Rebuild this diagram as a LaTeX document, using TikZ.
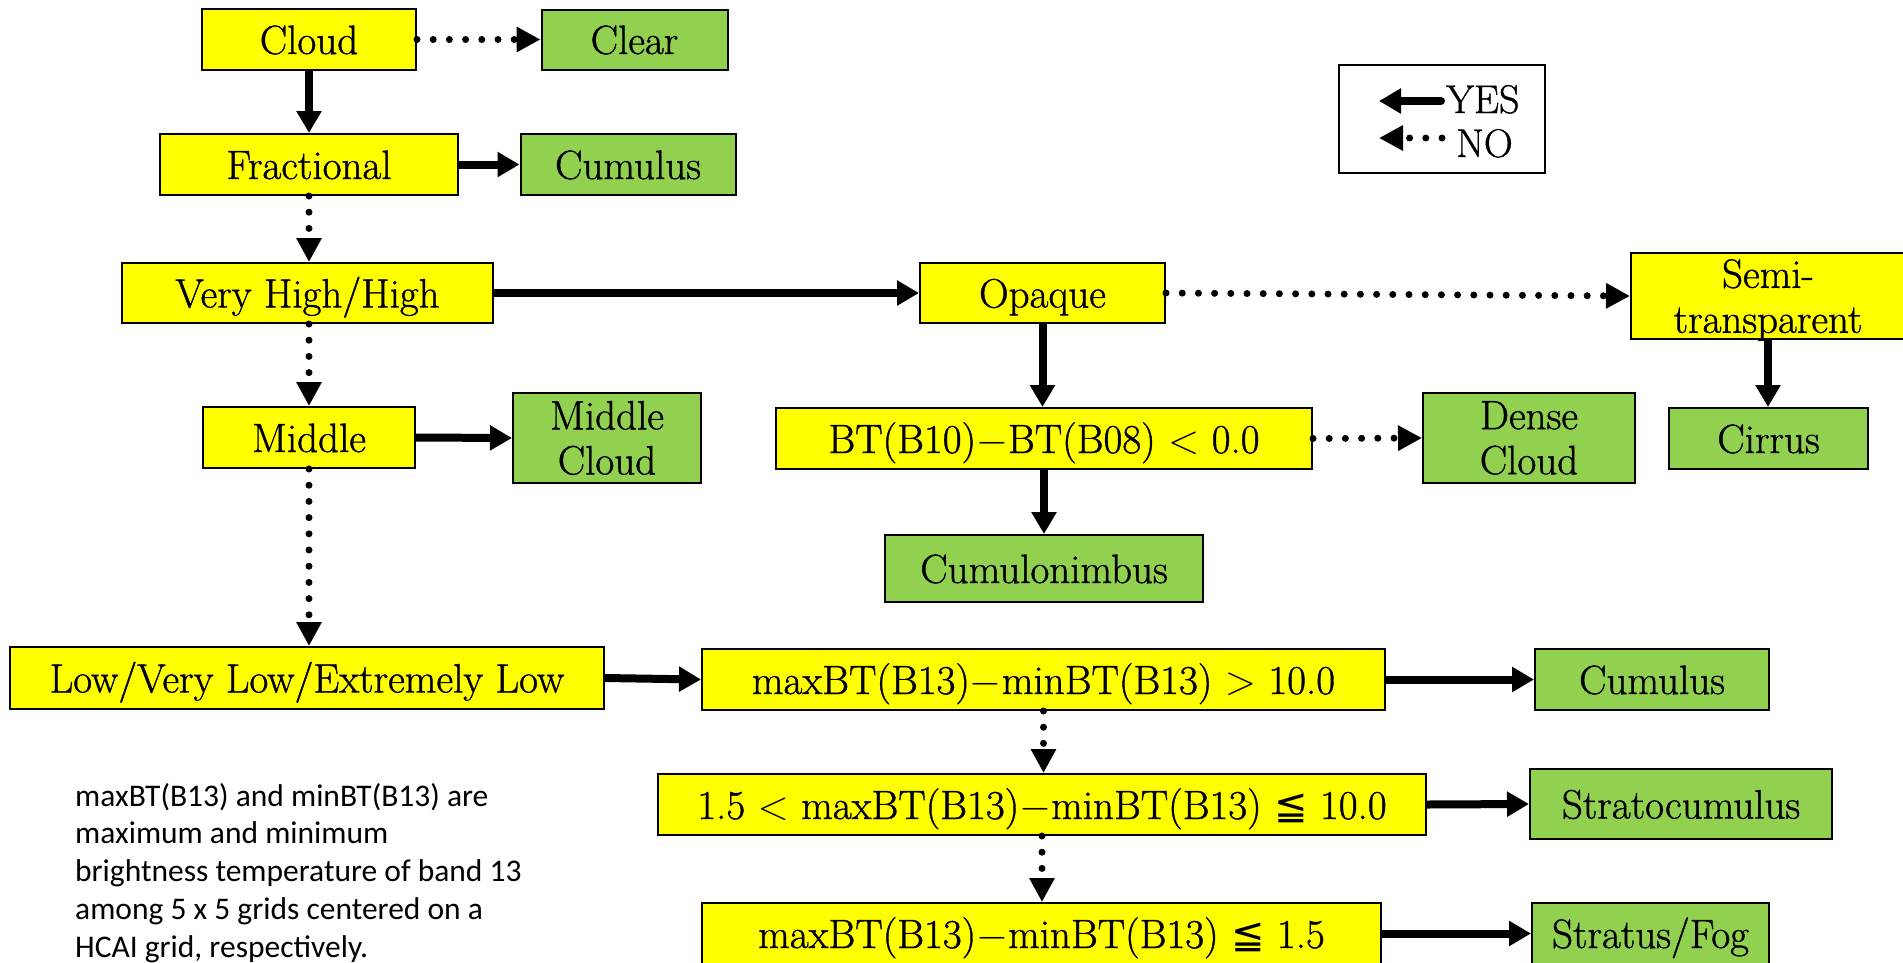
\documentclass[tikz,border=0pt]{standalone}
\usepackage{fix-cm}
\usepackage{fontspec}
\setmainfont{Latin Modern Roman}
\newfontfamily\boxfont{Latin Modern Roman}[FakeBold=1]
\newfontfamily\notefont{Carlito}
\newfontfamily\relfont{DejaVu Sans}
\usetikzlibrary{arrows.meta}

\definecolor{boxyellow}{HTML}{FFFF00}
\definecolor{boxgreen}{HTML}{92D050}

% less-than over equal sign
\newcommand{\leqqsym}{{\relfont\fontsize{40}{45}\selectfont ≦}}

\tikzset{
  boxbase/.style={draw=black, line width=2pt, inner sep=0pt, align=center,
    font=\boxfont\fontsize{41}{45}\selectfont},
  test/.style={boxbase, fill=boxyellow},
  result/.style={boxbase, fill=boxgreen},
  oneline/.style={text height=29pt, text depth=0pt},
  yesarrow/.style={line width=8pt, -{Triangle[length=22pt,width=24pt]}},
  noarrow/.style={line width=7pt, line cap=round, dash pattern=on 0pt off 16.2pt,
    -{Triangle[length=24pt,width=24pt]}},
  legendtext/.style={anchor=base west, inner sep=0pt, font=\boxfont\fontsize{40}{45}\selectfont},
}

\begin{document}
\begin{tikzpicture}[x=1pt, y=-1pt]
\useasboundingbox (0,0) rectangle (1903,962);

% decision boxes (yellow) and resulting cloud types (green)
\node[test, oneline, minimum width=214pt, minimum height=61pt] (cloud) at (309,39.5) {Cloud};
\node[result, oneline, minimum width=186pt, minimum height=60pt] (clear) at (634.5,39.5) {Clear};
\node[test, oneline, minimum width=298pt, minimum height=61pt] (frac) at (309,164.5) {Fractional};
\node[result, oneline, minimum width=215pt, minimum height=61pt] (cum1) at (628,164.5) {Cumulus};
\node[test, oneline, minimum width=371pt, minimum height=60pt] (vhh) at (307.5,293) {Very High/High};
\node[test, oneline, minimum width=245pt, minimum height=60pt] (opaque) at (1042.5,293) {Opaque};
\node[test, text depth=0pt, minimum width=274pt, minimum height=86pt] (semi) at (1768,296) {Semi-\\transparent};
\node[test, oneline, minimum width=212pt, minimum height=61pt] (middle) at (309,437.5) {Middle};
\node[result, minimum width=188pt, minimum height=90pt] (midcloud) at (607,438) {Middle\\Cloud};
\node[test, oneline, minimum width=536pt, minimum height=61pt] (bt) at (1044,438.5) {BT(B10)$-$BT(B08) $<$ 0.0};
\node[result, minimum width=212pt, minimum height=90pt] (dense) at (1529,438) {Dense\\Cloud};
\node[result, oneline, minimum width=199pt, minimum height=61pt] (cirrus) at (1768.5,438.5) {Cirrus};
\node[result, oneline, minimum width=318pt, minimum height=67pt] (cumnimb) at (1044,568.5) {Cumulonimbus};
\node[test, oneline, minimum width=594pt, minimum height=62pt] (low) at (307,678) {Low/Very Low/Extremely Low};
\node[test, oneline, minimum width=683pt, minimum height=61pt] (gt) at (1043.5,679.5) {maxBT(B13)$-$minBT(B13) $>$ 10.0};
\node[result, oneline, minimum width=234pt, minimum height=61pt] (cum2) at (1652,679.5) {Cumulus};
\node[test, oneline, minimum width=768pt, minimum height=61pt] (mid) at (1042,804.5) {1.5 $<$ maxBT(B13)$-$minBT(B13) \leqqsym{} 10.0};
\node[result, oneline, minimum width=302pt, minimum height=70pt] (strato) at (1681,804) {Stratocumulus};
\node[test, oneline, minimum width=679pt, minimum height=61pt] (le) at (1041.5,933.5) {maxBT(B13)$-$minBT(B13) \leqqsym{} 1.5};
\node[result, oneline, minimum width=237pt, minimum height=61pt] (stratus) at (1650.5,933.5) {Stratus/Fog};

% connectors: solid = YES, dotted = NO
\draw[noarrow] (cloud.east) -- (clear.west);
\draw[yesarrow] (cloud.south) -- (frac.north);
\draw[yesarrow] (frac.east) -- (cum1.west);
\draw[noarrow] (frac.south) -- (frac.south |- vhh.north);
\draw[yesarrow] (vhh.east) -- (opaque.west);
\draw[noarrow] (opaque.east) -- (semi.west);
\draw[yesarrow] (opaque.south) -- (opaque.south |- bt.north);
\draw[yesarrow] (semi.south) -- (semi.south |- cirrus.north);
\draw[noarrow] (middle.north |- vhh.south) -- (middle.north);
\draw[yesarrow] (middle.east) -- (midcloud.west);
\draw[noarrow] (bt.east) -- (dense.west);
\draw[yesarrow] (bt.south) -- (bt.south |- cumnimb.north);
\draw[noarrow] (middle.south) -- (middle.south |- low.north);
\draw[yesarrow] (low.east) -- (gt.west);
\draw[yesarrow] (gt.east) -- (cum2.west);
\draw[noarrow] (gt.south) -- (gt.south |- mid.north);
\draw[yesarrow] (mid.east) -- (strato.west);
\draw[noarrow] (mid.south) -- (mid.south |- le.north);
\draw[yesarrow] (le.east) -- (stratus.west);

% legend
\node[draw=black, line width=2pt, fill=white, minimum width=206pt, minimum height=108pt, inner sep=0pt] (legend) at (1442,119) {};
\node[legendtext] (yes) at (1446,113) {YES};
\node[legendtext] (no) at (1456,157) {NO};
\coordinate (yestail) at (1441,101);
\coordinate (yeshead) at (1379,101);
\coordinate (notail) at (1442,138);
\coordinate (nohead) at (1379,138);
\draw[yesarrow, line cap=round] (yestail) -- (yeshead);
\draw[noarrow] (notail) -- (nohead);

% explanatory note
\node[anchor=north west, inner sep=0pt, align=left,
  font={\notefont\fontsize{31.5}{37.7}\selectfont}] (note) at (75,783)
  {maxBT(B13) and minBT(B13) are\\
   maximum and minimum\\
   brightness temperature of band 13\\
   among 5 x 5 grids centered on a\\
   HCAI grid, respectively.};
\end{tikzpicture}
\end{document}
